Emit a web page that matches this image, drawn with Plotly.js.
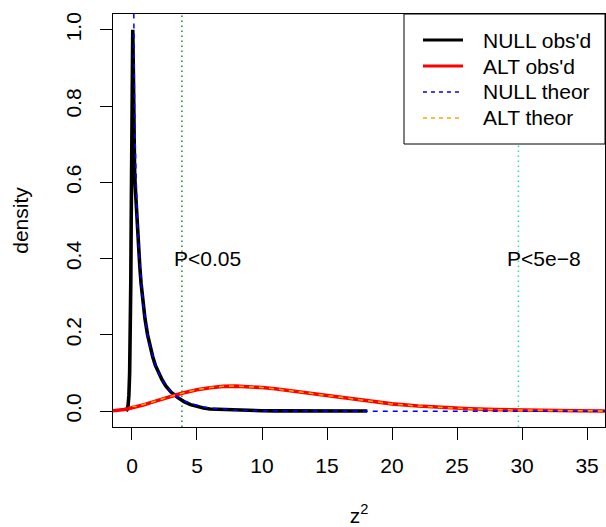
<!DOCTYPE html>
<html>
<head>
<meta charset="utf-8">
<script src="https://cdn.plot.ly/plotly-3.0.1.min.js"></script>
<style>html,body{margin:0;padding:0;background:#fff;}#chart{width:606px;height:527px;}</style>
</head>
<body>
<div id="chart"></div>
<script>
// ---- data ----
// NULL observed density (black)
var nullObsX = [-0.45,-0.38,-0.3,-0.24,-0.18,-0.13,-0.09,-0.06,-0.03,0,0.03,0.06,0.09,0.12,0.15,0.2,0.25,0.3,0.4,0.5,0.6,0.7,0.8,0.9,1.0,1.2,1.4,1.6,1.8,2.0,2.3,2.6,3.0,3.5,4.0,4.5,5.0,5.5,6.0,6.5,7.0,8.0,9.0,10,11,12,13,14,15,16,17,18.1];
var nullObsY = [0.0,0.004,0.015,0.04,0.1,0.2,0.34,0.5,0.7,0.88,0.98,1.0,0.93,0.79,0.69,0.63,0.59,0.555,0.495,0.435,0.38,0.335,0.3,0.268,0.242,0.2,0.167,0.142,0.12,0.103,0.083,0.066,0.05,0.036,0.025,0.017,0.012,0.008,0.0055,0.0048,0.0035,0.0025,0.0015,0.001,0.0008,0.0007,0.0006,0.0005,0.0005,0.0004,0.0003,0.0003];
// ALT observed density (red)
var altObsX = [-1.46,-1.2,-0.9,-0.6,-0.3,0,0.3,0.6,1.0,1.5,2.0,2.5,3.0,3.5,4.0,5.0,6.0,7.0,8.0,9.0,10,11,12,13,14,15,16,17,18,19,20,22,24,26,28,30,32,34,36.4];
var altObsY = [0.0008,0.0015,0.0028,0.0045,0.0065,0.0085,0.011,0.0135,0.0175,0.023,0.0285,0.034,0.039,0.0435,0.048,0.056,0.0615,0.065,0.0655,0.0645,0.062,0.0585,0.054,0.049,0.0445,0.0395,0.0348,0.0303,0.0262,0.0224,0.019,0.0133,0.0091,0.0061,0.004,0.0026,0.0016,0.001,0.0005];
// NULL theoretical density (blue dashed)
var nullThX = [0.1,0.13,0.15,0.2,0.25,0.3,0.4,0.5,0.6,0.7,0.8,0.9,1.0,1.2,1.4,1.6,1.8,2.0,2.3,2.6,3.0,3.5,4.0,4.5,5.0,5.5,6,7,8,9,10,12,14,17,20,25,30,36.4];
var nullThY = [1.2,1.037,0.967,0.807,0.704,0.627,0.516,0.439,0.3815,0.336,0.299,0.268,0.242,0.2,0.167,0.142,0.121,0.104,0.083,0.067,0.051,0.037,0.027,0.02,0.0146,0.0109,0.0081,0.0046,0.0026,0.0015,0.0009,0.0003,0.0001,0.00003,0.00001,0,0,0];
// ALT theoretical density (orange dashed)
var altThX = [0.03,0.1,0.3,0.5,1.0,1.5,2.0,2.5,3.0,3.5,4.0,5.0,6.0,7.0,8.0,9.0,10,11,12,13,14,15,16,17,18,19,20,22,24,26,28,30,32,34,36.4];
var altThY = [0.0165,0.0125,0.0123,0.014,0.0178,0.0232,0.0287,0.0342,0.0392,0.0437,0.0482,0.0562,0.0617,0.0652,0.0657,0.0647,0.0622,0.0587,0.0542,0.0492,0.0447,0.0398,0.035,0.0305,0.0262,0.0224,0.0189,0.0132,0.009,0.006,0.0039,0.0025,0.0016,0.001,0.0005];
// significance thresholds
var critX = [3.84, 29.72];
var critLabels = ["P<0.05", "P<5e\u22128"];
var critColors = ["#1f8a2e", "#22e89a"];
var labelY = 0.4;
// legend
var legendNames = ["NULL obs'd", "ALT obs'd", "NULL theor", "ALT theor"];
var legendColors = ["#000000", "#ff0000", "#0000ff", "#ffa500"];
var legendDash = ["solid", "solid", "4px,4px", "4px,4px"];
var legendWidth = [3, 3, 1.3, 1.3];
// axes
var xTicks = [0,5,10,15,20,25,30,35];
var yTicks = [0,0.2,0.4,0.6,0.8,1.0];
var yTickText = ["0.0","0.2","0.4","0.6","0.8","1.0"];

var FONT = "Liberation Sans, Arial, Helvetica, sans-serif";
var FS = 21;

var traces = [
  {x: nullObsX, y: nullObsY, mode: "lines", name: legendNames[0], line: {color: legendColors[0], width: 3.6}, showlegend: false},
  {x: altObsX, y: altObsY, mode: "lines", name: legendNames[1], line: {color: legendColors[1], width: 3.6}, showlegend: false},
  {x: nullThX, y: nullThY, mode: "lines", name: legendNames[2], line: {color: legendColors[2], width: 1.5, dash: "5px,5px"}, showlegend: false},
  {x: altThX, y: altThY, mode: "lines", name: legendNames[3], line: {color: legendColors[3], width: 1.5, dash: "5px,5px"}, showlegend: false}
];

var L = 113, R = 1, T = 14, B = 100, W = 606, H = 527;
var pw = W - L - R, ph = H - T - B;
function px2x(p){ return (p - L) / pw; }
function py2y(p){ return (H - B - p) / ph; }

var shapes = [];
var annotations = [];
critX.forEach(function(c, i){
  shapes.push({type: "line", xref: "x", yref: "paper", x0: c, x1: c, y0: 0, y1: 1,
    line: {color: critColors[i], width: 1.5, dash: "1.5px,3.5px"}, layer: "below"});
  annotations.push({x: c + 2, y: labelY, xref: "x", yref: "y", text: critLabels[i], showarrow: false,
    font: {family: FONT, size: FS, color: "#000"}, xanchor: "center", yanchor: "middle"});
});

// legend box
shapes.push({type: "rect", xref: "paper", yref: "paper", x0: px2x(404), x1: 1, y0: py2y(144), y1: 1,
  line: {color: "#000", width: 1}, fillcolor: "#fff", layer: "above"});
var rowY = [40, 66, 92, 118];
legendNames.forEach(function(n, i){
  shapes.push({type: "line", xref: "paper", yref: "paper", x0: px2x(423), x1: px2x(463), y0: py2y(rowY[i]), y1: py2y(rowY[i]),
    line: {color: legendColors[i], width: legendWidth[i], dash: legendDash[i]}, layer: "above"});
  annotations.push({xref: "paper", yref: "paper", x: px2x(481), y: py2y(rowY[i]), text: n, showarrow: false,
    xanchor: "left", yanchor: "middle", font: {family: FONT, size: FS, color: "#000"}});
});

var layout = {
  width: W, height: H,
  margin: {l: L, r: R, t: T, b: B, pad: 0},
  paper_bgcolor: "#fff", plot_bgcolor: "#fff",
  font: {family: FONT, size: FS, color: "#000"},
  showlegend: false,
  xaxis: {range: [-1.46, 36.38], tickvals: xTicks, ticks: "outside", ticklen: 12, tickwidth: 1, tickcolor: "#000",
    showline: true, linecolor: "#000", linewidth: 1, mirror: true, showgrid: false, zeroline: false,
    tickfont: {family: FONT, size: FS}, ticklabelstandoff: 8,
    title: {text: "z<sup>2</sup>", font: {family: FONT, size: FS}, standoff: 36}},
  yaxis: {range: [-0.0416, 1.0416], tickvals: yTicks, ticktext: yTickText, tickangle: -90, ticks: "outside", ticklen: 12,
    tickwidth: 1, tickcolor: "#000", showline: true, linecolor: "#000", linewidth: 1, mirror: true, showgrid: false, zeroline: false,
    tickfont: {family: FONT, size: FS}, ticklabelstandoff: 11,
    title: {text: "density", font: {family: FONT, size: FS}, standoff: 27}},
  shapes: shapes,
  annotations: annotations
};

Plotly.newPlot("chart", traces, layout, {displayModeBar: false, staticPlot: true});
</script>
</body>
</html>
